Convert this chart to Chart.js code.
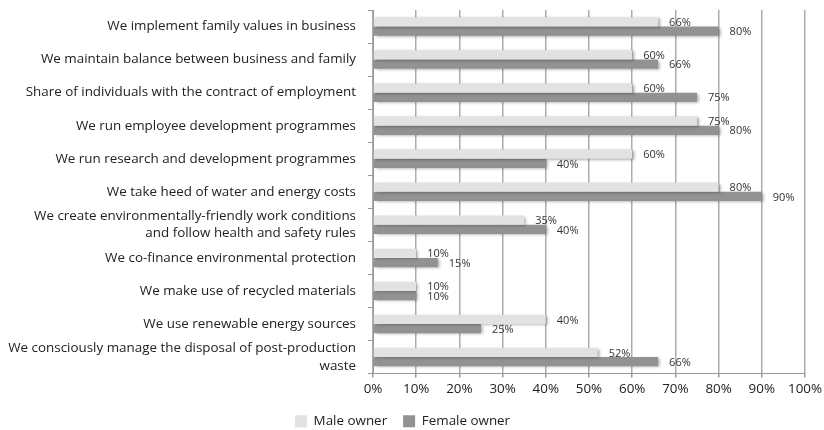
<!DOCTYPE html>
<html>
<head>
<meta charset="utf-8">
<script src="https://cdn.jsdelivr.net/npm/chart.js@4.4.1/dist/chart.umd.min.js"></script>
<style>
  html, body { margin: 0; padding: 0; background: #fff; }
  #wrap { width: 824px; height: 430px; }
</style>
</head>
<body>
<div id="wrap"><canvas id="ownerChart"></canvas></div>
<script>
// Business practices, male vs female owned firms (share of firms, %)
const practices = [
    'We implement family values in business',
    'We maintain balance between business and family',
    'Share of individuals with the contract of employment',
    'We run employee development programmes',
    'We run research and development programmes',
    'We take heed of water and energy costs',
    ['We create environmentally-friendly work conditions', 'and follow health and safety rules'],
    'We co-finance environmental protection',
    'We make use of recycled materials',
    'We use renewable energy sources',
    ['We consciously manage the disposal of post-production', 'waste']
];
const maleOwner = [66, 60, 60, 75, 60, 80, 35, 10, 10, 40, 52];
const femaleOwner = [80, 66, 75, 80, 40, 90, 40, 15, 10, 25, 66];
const seriesNames = ['Male owner', 'Female owner'];
const percentTicks = [0, 10, 20, 30, 40, 50, 60, 70, 80, 90, 100];

const FONT = '"Open Sans", sans-serif';

// soft drop shadow under the bars
const barShadow = {
    id: 'barShadow',
    beforeDatasetsDraw(chart) {
        const c = chart.ctx;
        c.save();
        c.shadowColor = 'rgba(0,0,0,0.35)';
        c.shadowBlur = 3;
        c.shadowOffsetX = 2;
        c.shadowOffsetY = 1;
    },
    afterDatasetsDraw(chart) {
        chart.ctx.restore();
    }
};

// percentage written just past the end of each bar
const valueLabels = {
    id: 'valueLabels',
    afterDatasetsDraw(chart) {
        const c = chart.ctx;
        c.save();
        c.font = '11px ' + FONT;
        c.fillStyle = '#333';
        c.textAlign = 'left';
        c.textBaseline = 'middle';
        chart.data.datasets.forEach((ds, i) => {
            chart.getDatasetMeta(i).data.forEach((bar, j) => {
                c.fillText(ds.data[j] + '%', bar.x + 11, bar.y + 1);
            });
        });
        c.restore();
    }
};

const ctx = document.getElementById('ownerChart');

new Chart(ctx, {
    type: 'bar',
    data: {
        labels: practices,
        datasets: [{
            label: seriesNames[0],
            data: maleOwner,
            backgroundColor: '#e2e2e2',
            barPercentage: 1,
            categoryPercentage: 0.56
        }, {
            label: seriesNames[1],
            data: femaleOwner,
            backgroundColor: '#929292',
            barPercentage: 1,
            categoryPercentage: 0.56
        }]
    },
    options: {
        indexAxis: 'y',
        responsive: true,
        maintainAspectRatio: false,
        animation: false,
        layout: {
            padding: { top: 10, right: 19, left: 0, bottom: -8 }
        },
        scales: {
            x: {
                min: 0,
                max: 100,
                afterBuildTicks: (scale) => {
                    scale.ticks = percentTicks.map(v => ({ value: v }));
                },
                afterFit: (scale) => {
                    scale.height = 25;
                    scale.paddingLeft = 0;
                    scale.paddingRight = 0;
                },
                ticks: {
                    callback: v => v + '%',
                    color: '#222',
                    font: { family: FONT, size: 13.4 },
                    padding: 4
                },
                grid: {
                    color: '#acacac',
                    lineWidth: 1.5,
                    tickLength: 4,
                    tickColor: '#999'
                },
                border: { color: '#999', width: 1 }
            },
            y: {
                afterFit: (scale) => {
                    scale.width = 373;
                    scale.paddingTop = 0;
                    scale.paddingBottom = 0;
                },
                ticks: {
                    autoSkip: false,
                    color: '#222',
                    font: { family: FONT, size: 13.4, lineHeight: 1.3 },
                    padding: 12
                },
                grid: {
                    offset: true,
                    drawOnChartArea: false,
                    tickLength: 5,
                    tickColor: '#999'
                },
                border: { color: '#999', width: 1 }
            }
        },
        plugins: {
            legend: {
                position: 'bottom',
                labels: {
                    boxWidth: 12,
                    boxHeight: 12,
                    color: '#222',
                    font: { family: FONT, size: 13.4 },
                    padding: 16
                }
            },
            tooltip: { enabled: false }
        }
    },
    plugins: [barShadow, valueLabels]
});
</script>
</body>
</html>
